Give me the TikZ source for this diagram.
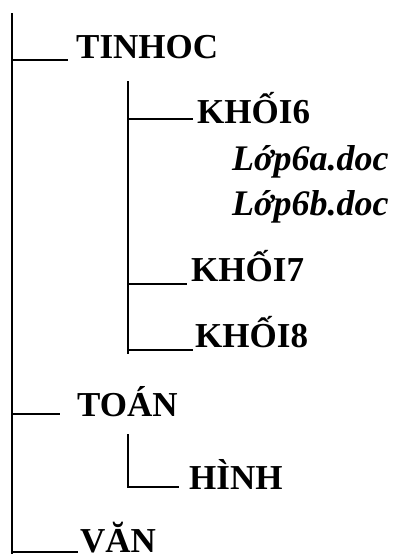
\documentclass[tikz,border=0pt]{standalone}
\usepackage{fontspec}
\setmainfont{Liberation Serif}
\begin{document}
\begin{tikzpicture}[x=1pt,y=-1pt,
  lbl/.style={anchor=base west,inner sep=0pt,font=\fontsize{35}{40}\selectfont\bfseries},
  file/.style={anchor=base west,inner sep=0pt,font=\fontsize{36}{40}\selectfont\bfseries\itshape},
  branch/.style={line width=1.4pt}]
\useasboundingbox (0,0) rectangle (396,554);
% labels
\node[lbl] (tinhoc) at (76,58) {TINHOC};
\node[lbl] (khoi6) at (197,123) {KHỐI6};
\node[file] (lop6a) at (232,170) {Lớp6a.doc};
\node[file] (lop6b) at (232,215) {Lớp6b.doc};
\node[lbl] (khoi7) at (191,281) {KHỐI7};
\node[lbl] (khoi8) at (195,347) {KHỐI8};
\node[lbl] (toan) at (77,416) {TOÁN};
\node[lbl] (hinh) at (189,489) {HÌNH};
\node[lbl] (van) at (80,552) {VĂN};
% tree points
\coordinate (root) at (12,13);
\coordinate (rootEnd) at (12,560);
\coordinate (sub1) at (128,81);
\coordinate (sub1End) at (128,354);
\coordinate (sub2) at (128,434);
\coordinate (eTinhoc) at (68,60);
\coordinate (eKhoi6) at (193,119);
\coordinate (eKhoi7) at (187,284);
\coordinate (eKhoi8) at (193,350);
\coordinate (eToan) at (60,414);
\coordinate (eHinh) at (179,487);
\coordinate (eVan) at (78,552);
% connectors
\draw[branch] (root) -- (rootEnd);
\draw[branch] (root |- eTinhoc) -- (eTinhoc);
\draw[branch] (root |- eToan) -- (eToan);
\draw[branch] (root |- eVan) -- (eVan);
\draw[branch] (sub1) -- (sub1End);
\draw[branch] (sub1 |- eKhoi6) -- (eKhoi6);
\draw[branch] (sub1 |- eKhoi7) -- (eKhoi7);
\draw[branch] (sub1 |- eKhoi8) -- (eKhoi8);
\draw[branch] (sub2) |- (eHinh);
\end{tikzpicture}
\end{document}
